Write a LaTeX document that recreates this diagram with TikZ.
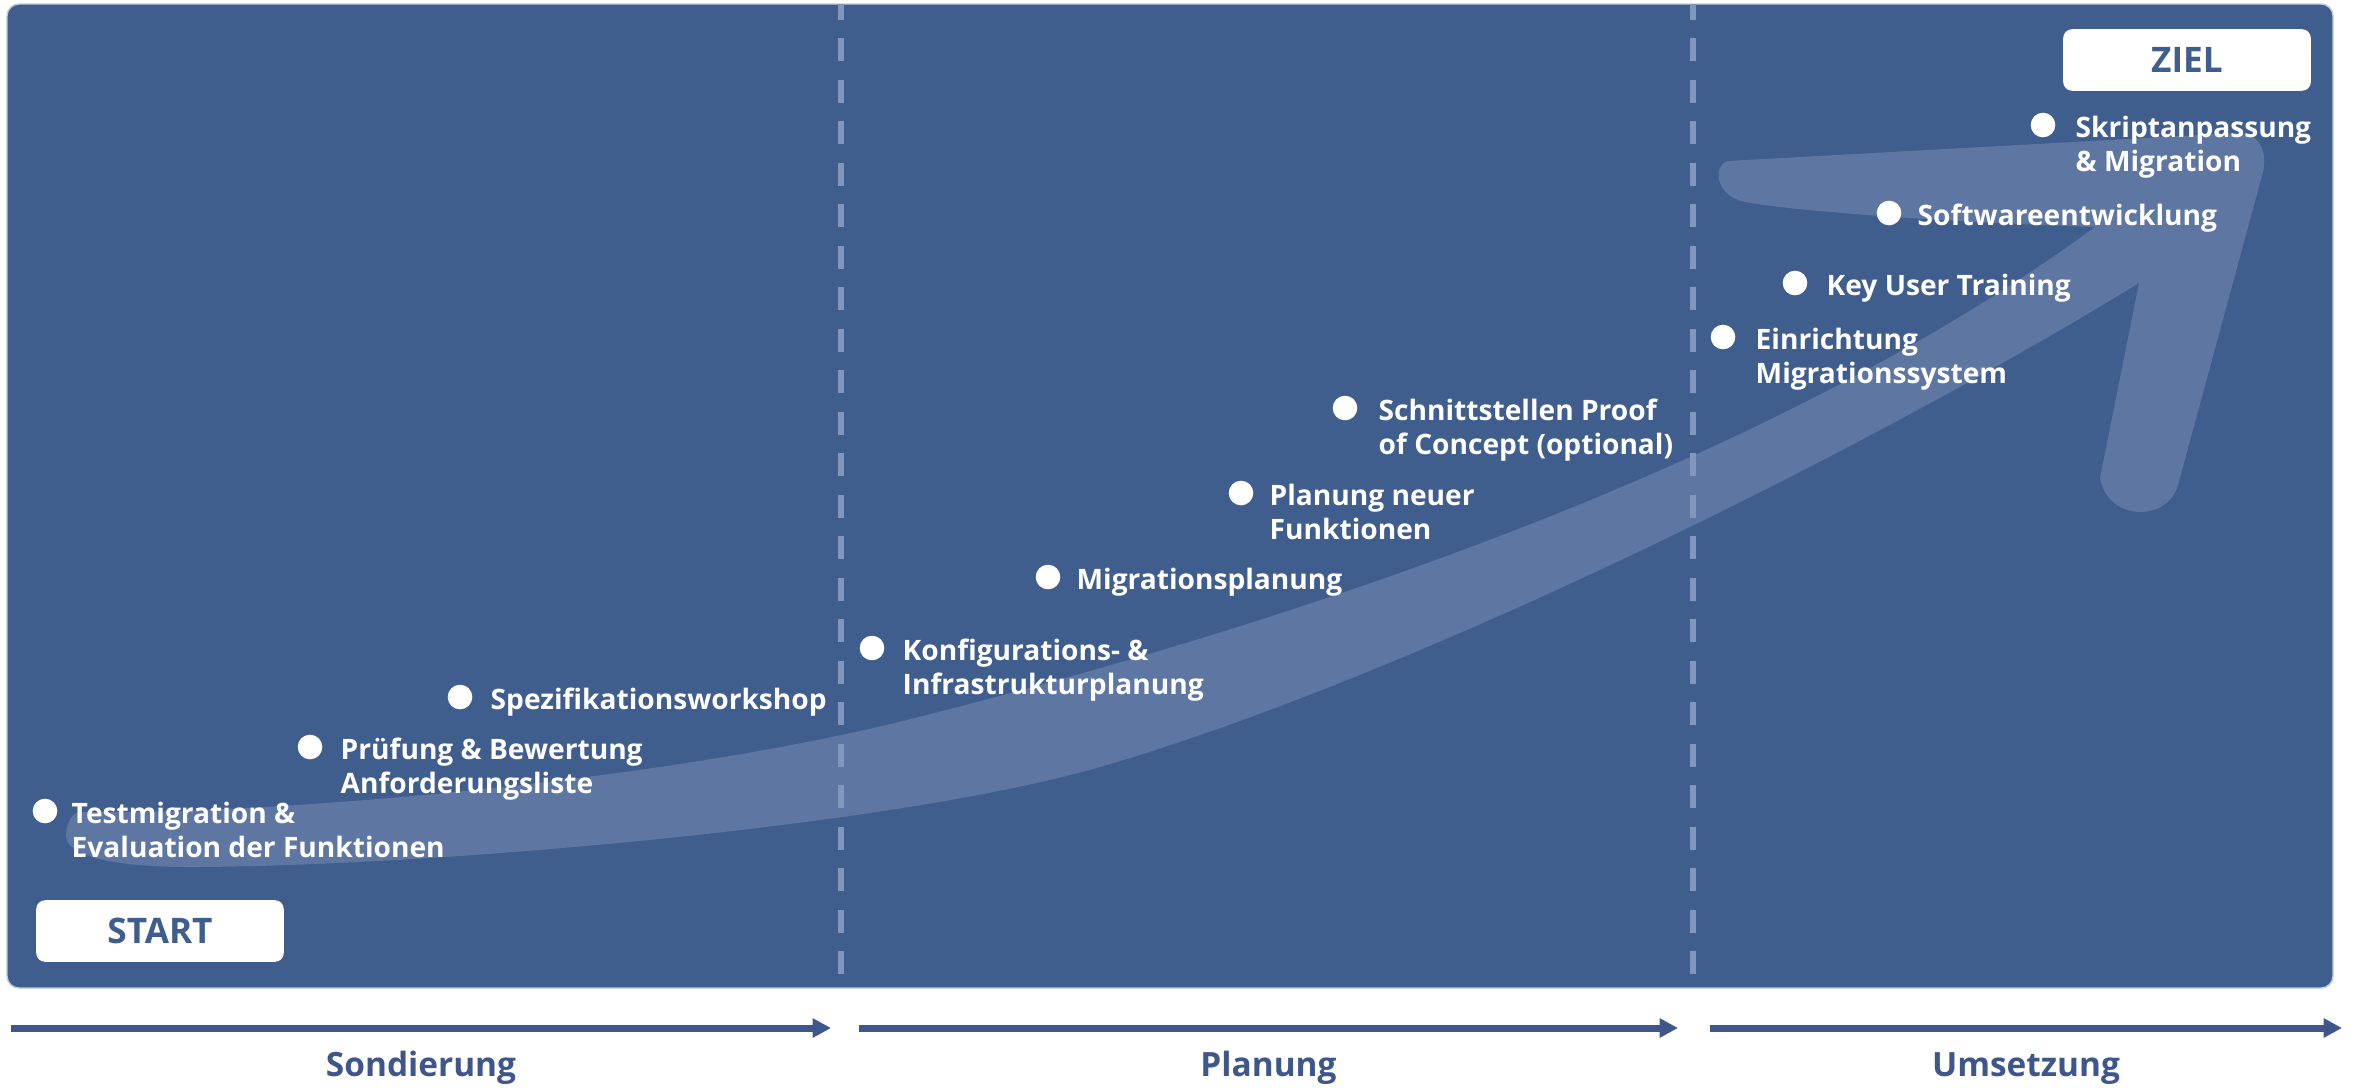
\documentclass[tikz,border=0pt]{standalone}
\usepackage{fontspec}
\setmainfont{Open Sans}
\usetikzlibrary{positioning, arrows.meta, shapes}

\definecolor{panelblue}{HTML}{3F5D8D}
\definecolor{bandblue}{HTML}{5D76A2}
\definecolor{dashblue}{HTML}{8297BD}
\definecolor{phaseblue}{HTML}{3E568A}

\tikzset{
  stepdot/.style={circle, fill=white, inner sep=0pt, minimum size=7pt},
  steptext/.style={anchor=base west, align=left, inner sep=0pt, text=white, font=\fontsize{8}{9.7}\selectfont\bfseries},
  steptexttwo/.style={steptext, yshift=-9.7pt},
  goalbox/.style={rounded corners=2.5pt, fill=white, minimum width=70.4pt, minimum height=17.5pt, inner sep=0pt, text=panelblue, font=\fontsize{10}{12}\selectfont\bfseries},
  phasearrow/.style={phaseblue, line width=2pt, -{Triangle[length=5.2pt,width=5.2pt]}},
  phase/.style={anchor=base, inner sep=0pt, text=phaseblue, font=\fontsize{9.5}{11}\selectfont\bfseries},
  divider/.style={dashblue, line width=1.6pt, dash pattern=on 6.5pt off 5.3pt, dash phase=2pt}
}

\begin{document}
\begin{tikzpicture}[x=0.01cm, y=-0.01cm]
\useasboundingbox (0,0) rectangle (2354,1087);

% panel
\filldraw[fill=panelblue, draw={rgb,255:red,196;green,203;blue,216}, line width=0.4pt, rounded corners=3.4pt] (7,4) rectangle (2333,988);

% big arrow in the background
\fill[bandblue] (80,812) .. controls (250,815) and (650,785) .. (915,718)
  .. controls (1250,633) and (1750,480) .. (2095,227)
  .. controls (1950,222) and (1800,212) .. (1745,202)
  .. controls (1715,196) and (1712,165) .. (1728,161)
  -- (2235,133) .. controls (2258,131) and (2268,150) .. (2263,172)
  -- (2178,485) .. controls (2168,522) and (2108,522) .. (2100,478)
  -- (2139,283)
  .. controls (1850,460) and (1400,680) .. (1100,767)
  .. controls (900,825) and (450,865) .. (200,867)
  .. controls (110,868) and (65,855) .. (66,835)
  .. controls (67,818) and (75,812) .. cycle;

% phase borders
\coordinate (b1top) at (841,4);
\coordinate (b1bot) at (841,988);
\coordinate (b2top) at (1693,4);
\coordinate (b2bot) at (1693,988);
\draw[divider] (b1top) -- (b1bot);
\draw[divider] (b2top) -- (b2bot);

% start and goal
\node[goalbox] (start) at (160,931) {START};
\node[goalbox] (goal) at (2187,60) {ZIEL};

% steps
\node[stepdot] (d1) at (45,811) {};
\node[stepdot] (d2) at (310,747) {};
\node[stepdot] (d3) at (460,697) {};
\node[stepdot] (d4) at (872,648) {};
\node[stepdot] (d5) at (1048,577) {};
\node[stepdot] (d6) at (1241,493) {};
\node[stepdot] (d7) at (1345,408) {};
\node[stepdot] (d8) at (1723,337) {};
\node[stepdot] (d9) at (1795,283) {};
\node[stepdot] (d10) at (1889,213) {};
\node[stepdot] (d11) at (2043,125) {};

\node[steptexttwo] (t1) at ([shift={(26,12)}]d1.center) {Testmigration \&\\Evaluation der Funktionen};
\node[steptexttwo] (t2) at ([shift={(30,12)}]d2.center) {Prüfung \& Bewertung\\Anforderungsliste};
\node[steptext] (t3) at ([shift={(30,12)}]d3.center) {Spezifikationsworkshop};
\node[steptexttwo] (t4) at ([shift={(30,12)}]d4.center) {Konfigurations- \&\\Infrastrukturplanung};
\node[steptext] (t5) at ([shift={(28,12)}]d5.center) {Migrationsplanung};
\node[steptexttwo] (t6) at ([shift={(28,12)}]d6.center) {Planung neuer\\Funktionen};
\node[steptexttwo] (t7) at ([shift={(33,12)}]d7.center) {Schnittstellen Proof\\of Concept (optional)};
\node[steptexttwo] (t8) at ([shift={(32,12)}]d8.center) {Einrichtung\\Migrationssystem};
\node[steptext] (t9) at ([shift={(31,12)}]d9.center) {Key User Training};
\node[steptext] (t10) at ([shift={(28,12)}]d10.center) {Softwareentwicklung};
\node[steptexttwo] (t11) at ([shift={(32,12)}]d11.center) {Skriptanpassung\\\& Migration};

% phases
\coordinate (p1s) at (11,1028);
\coordinate (p1e) at (831,1028);
\coordinate (p2s) at (859,1028);
\coordinate (p2e) at (1678,1028);
\coordinate (p3s) at (1710,1028);
\coordinate (p3e) at (2342,1028);
\draw[phasearrow] (p1s) -- (p1e) node[phase, midway, yshift=-13.9pt] (ph1) {Sondierung};
\draw[phasearrow] (p2s) -- (p2e) node[phase, midway, yshift=-13.9pt] (ph2) {Planung};
\draw[phasearrow] (p3s) -- (p3e) node[phase, midway, yshift=-13.9pt] (ph3) {Umsetzung};

\end{tikzpicture}
\end{document}
